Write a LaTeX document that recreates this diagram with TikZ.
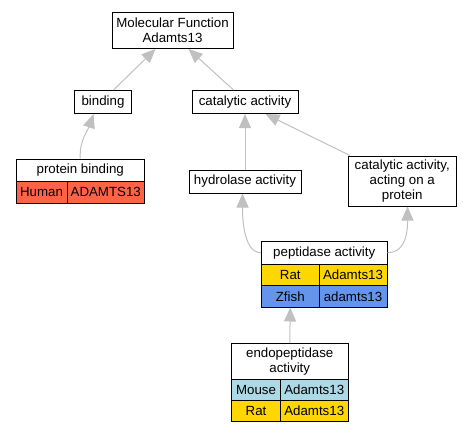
\documentclass[tikz,border=0pt]{standalone}
\usepackage{fontspec}
\setmainfont{Liberation Sans}
\usetikzlibrary{arrows.meta,calc}
\definecolor{edgegray}{HTML}{C0C0C0}
\definecolor{human}{HTML}{FF6347}
\definecolor{rat}{HTML}{FFD700}
\definecolor{zfish}{HTML}{6495ED}
\definecolor{mouse}{HTML}{ADD8E6}
\begin{document}
\begin{tikzpicture}[x=1pt,y=-1pt,
  box/.style={draw=black, line width=1pt, fill=white, inner sep=0pt, align=center,
    font=\fontsize{13.3}{15}\selectfont, anchor=north west},
  cell/.style={box, minimum height=21.5pt},
  edge/.style={draw=edgegray, line width=1pt, -{Triangle[length=14pt,width=12pt]}}]
\useasboundingbox (0,0) rectangle (471,432);
% plain boxes
\node[box, minimum width=121pt, minimum height=36pt] (mf) at (111.5,12) {Molecular Function\\Adamts13};
\node[box, minimum width=57pt, minimum height=23pt] (bind) at (74,90) {binding};
\node[box, minimum width=106pt, minimum height=23pt] (cat) at (191.5,90) {catalytic activity};
\node[box, minimum width=112pt, minimum height=23pt] (hyd) at (188.5,169.5) {hydrolase activity};
\node[box, minimum width=108.5pt, minimum height=50pt] (act) at (347.5,155.5) {catalytic activity,\\acting on a\\protein};
% protein binding table
\node[box, minimum width=128.5pt, minimum height=22.5pt] (pb) at (15.5,158.5) {protein binding};
\node[cell, fill=human, minimum width=51pt] (pbh) at (15.5,181) {Human};
\node[cell, fill=human, minimum width=77.5pt] (pbg) at (66.5,181) {ADAMTS13};
% peptidase table
\node[box, minimum width=125.5pt, minimum height=22.5pt] (pep) at (261,241) {peptidase activity};
\node[cell, fill=rat, minimum width=57.5pt] (pr) at (261,263.5) {Rat};
\node[cell, fill=rat, minimum width=68pt] (prg) at (318.5,263.5) {Adamts13};
\node[cell, fill=zfish, minimum width=57.5pt] (pz) at (261,285) {Zfish};
\node[cell, fill=zfish, minimum width=68pt] (pzg) at (318.5,285) {adamts13};
% endopeptidase table
\node[box, minimum width=116.5pt, minimum height=35.5pt] (endo) at (231,343) {endopeptidase\\activity};
\node[cell, fill=mouse, minimum width=49pt, minimum height=21pt] (em) at (231,378.5) {Mouse};
\node[cell, fill=mouse, minimum width=67.5pt, minimum height=21pt] (emg) at (280,378.5) {Adamts13};
\node[cell, fill=rat, minimum width=49pt, minimum height=21pt] (er) at (231,399.5) {Rat};
\node[cell, fill=rat, minimum width=67.5pt, minimum height=21pt] (erg) at (280,399.5) {Adamts13};
% edges
\draw[edge] ($(bind.north)+(10.5,0)$) -- ($(mf.south)+(-17,0)$);
\draw[edge] ($(cat.north)+(-11.5,0)$) -- ($(mf.south)+(16,0)$);
\draw[edge] (pb.north) .. controls ($(pb.north)+(-1,-18)$) and ($(bind.south)+(-15,16)$) .. ($(bind.south)+(-9.5,0)$);
\draw[edge] (hyd.north) -- (cat.south);
\draw[edge] ($(act.north west)+(2.5,0)$) -- ($(cat.south)+(20.5,0)$);
\draw[edge] (pep.west) .. controls ($(pep.west)+(-19,0)$) and ($(hyd.south)+(-2.5,18)$) .. ($(hyd.south)+(-2.5,0)$);
\draw[edge] (pep.east) .. controls ($(pep.east)+(21,0)$) and ($(act.south)+(5.25,18)$) .. ($(act.south)+(5.25,0)$);
\draw[edge] (endo.north) -- (pz.south);
\end{tikzpicture}
\end{document}
